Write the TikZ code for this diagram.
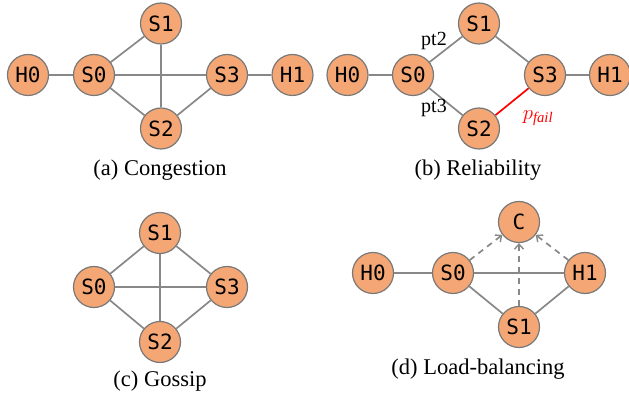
\documentclass[tikz,border=0pt]{standalone}
\usepackage{fontspec}
\setmainfont{Liberation Serif}
\setmonofont{DejaVu Sans Mono}
\usetikzlibrary{arrows.meta,backgrounds}
\definecolor{nodefill}{RGB}{244,167,116}
\definecolor{nodeedge}{RGB}{120,120,120}
\definecolor{edgegray}{RGB}{136,136,136}
\tikzset{
  sw/.style={circle, draw=nodeedge, line width=1.2pt, fill=nodefill, minimum size=41pt, inner sep=0pt, font=\ttfamily\fontsize{21}{23}\selectfont},
  link/.style={draw=edgegray, line width=1.7pt},
  faillink/.style={draw=red, line width=1.7pt},
  ctrl/.style={draw=edgegray, line width=1.7pt, dash pattern=on 6pt off 5pt, -{Straight Barb[length=5pt,width=9pt,line width=1.4pt]}},
  captxt/.style={font=\fontsize{22.5}{25}\selectfont},
  lbl/.style={font=\fontsize{20}{22}\selectfont}
}
\begin{document}
\begin{tikzpicture}[x=1pt,y=-1pt]
\useasboundingbox (0,0) rectangle (629,395);
% (a) Congestion
\node[sw] (aH0) at (28,75) {H0};
\node[sw] (aS0) at (94,75) {S0};
\node[sw] (aS1) at (161,23.5) {S1};
\node[sw] (aS2) at (161,128.5) {S2};
\node[sw] (aS3) at (227,75) {S3};
\node[sw] (aH1) at (292.5,75) {H1};
\node[captxt] (acap) at (160,170) {(a) Congestion};
% (b) Reliability
\node[sw] (bH0) at (347.5,75) {H0};
\node[sw] (bS0) at (413,75) {S0};
\node[sw] (bS1) at (479,23.5) {S1};
\node[sw] (bS2) at (479,128.5) {S2};
\node[sw] (bS3) at (545,75) {S3};
\node[sw] (bH1) at (610,75) {H1};
\node[lbl] (pt2) at (434,41) {pt2};
\node[lbl] (pt3) at (434,108) {pt3};
\node[text=red, font=\fontsize{21}{23}\selectfont] (pfail) at (538,118) {$p_{\mathit{fail}}$};
\node[captxt] (bcap) at (478,170) {(b) Reliability};
% (c) Gossip
\node[sw] (cS1) at (160,233) {S1};
\node[sw] (cS0) at (94,287) {S0};
\node[sw] (cS3) at (227,287) {S3};
\node[sw] (cS2) at (160,342) {S2};
\node[captxt] (ccap) at (160,381) {(c) Gossip};
% (d) Load-balancing
\node[sw] (dC) at (519,222) {C};
\node[sw] (dH0) at (373,273) {H0};
\node[sw] (dS0) at (453,273) {S0};
\node[sw] (dH1) at (585,273) {H1};
\node[sw] (dS1) at (519,327) {S1};
\node[captxt] (dcap) at (478,369) {(d) Load-balancing};
\begin{scope}[on background layer]
% (a)
\draw[link] (aH0) -- (aS0);
\draw[link] (aS0) -- (aS1);
\draw[link] (aS0) -- (aS2);
\draw[link] (aS0) -- (aS3);
\draw[link] (aS1) -- (aS2);
\draw[link] (aS2) -- (aS3);
\draw[link] (aS3) -- (aH1);
% (b)
\draw[link] (bH0) -- (bS0);
\draw[link] (bS0) -- (bS1);
\draw[link] (bS0) -- (bS2);
\draw[link] (bS1) -- (bS3);
\draw[faillink] (bS2) -- (bS3);
\draw[link] (bS3) -- (bH1);
% (c)
\draw[link] (cS0) -- (cS1);
\draw[link] (cS0) -- (cS2);
\draw[link] (cS0) -- (cS3);
\draw[link] (cS1) -- (cS2);
\draw[link] (cS1) -- (cS3);
\draw[link] (cS2) -- (cS3);
% (d)
\draw[link] (dH0) -- (dS0);
\draw[link] (dS0) -- (dH1);
\draw[link] (dS0) -- (dS1);
\draw[link] (dS1) -- (dH1);
\end{scope}
\draw[ctrl] (dS0) -- (dC);
\draw[ctrl] (dS1) -- (dC);
\draw[ctrl] (dH1) -- (dC);
\end{tikzpicture}
\end{document}
